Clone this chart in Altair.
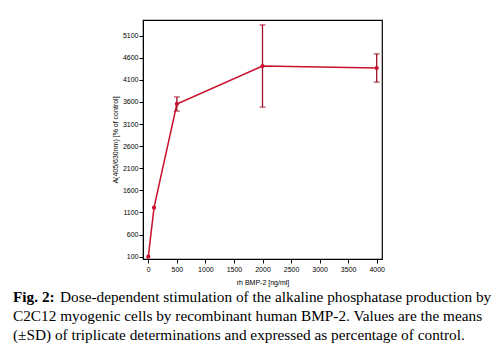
import altair as alt
import pandas as pd

dose = [0, 100, 500, 2000, 4000]
mean = [100, 1210, 3555, 4414, 4369]
sd = [0, 0, 160, 930, 320]

y_ticks = [100, 600, 1100, 1600, 2100, 2600, 3100, 3600, 4100, 4600, 5100]
x_ticks = [0, 500, 1000, 1500, 2000, 2500, 3000, 3500, 4000]

caption_bold = "Fig. 2:"
caption_lines = [
    "Dose-dependent stimulation of the alkaline phosphatase production by",
    "C2C12 myogenic cells by recombinant human BMP-2. Values are the means",
    "(\u00b1SD) of triplicate determinations and expressed as percentage of control.",
]

df = pd.DataFrame({"dose": dose, "mean": mean, "sd": sd})
df["lo"] = df["mean"] - df["sd"]
df["hi"] = df["mean"] + df["sd"]
err = df[df["sd"] > 0]

W, H = 239, 239
xs = alt.Scale(domain=[-93, 4093], nice=False, zero=False)
ys = alt.Scale(domain=[48, 5455], nice=False, zero=False)

line_color = "#c8102e"
err_color = "#a0102a"

common = dict(grid=False, tickSize=4, labelFontSize=7, titleFontSize=7,
              titleFontWeight="normal", labelFont="Liberation Sans",
              titleFont="Liberation Sans", domainColor="black", tickColor="black",
              labelColor="black", titleColor="black", labelFlush=False,
              labelOverlap=False, format="d")
xaxis = alt.Axis(values=x_ticks, labelPadding=2, titlePadding=6, **common)
yaxis = alt.Axis(values=y_ticks, labelPadding=1, titlePadding=4, **common)
xt = "rh BMP-2 [ng/ml]"
yt = "A(405/630nm) [% of control]"


def X(f):
    return alt.X(f, scale=xs, title=xt, axis=xaxis)


def Y(f):
    return alt.Y(f, scale=ys, title=yt, axis=yaxis)


line = alt.Chart(df).mark_line(color=line_color, strokeWidth=1.5).encode(x=X("dose:Q"), y=Y("mean:Q"))
pts = alt.Chart(df).mark_point(filled=True, color=line_color, size=18, opacity=1).encode(
    x=X("dose:Q"), y=Y("mean:Q"))

rules = alt.Chart(err).mark_rule(color=err_color, strokeWidth=1.3).encode(
    x=X("dose:Q"), y=Y("lo:Q"), y2="hi:Q")
cap_lo = alt.Chart(err).mark_tick(color=err_color, size=6, thickness=1.3, orient="horizontal").encode(
    x=X("dose:Q"), y=Y("lo:Q"))
cap_hi = alt.Chart(err).mark_tick(color=err_color, size=6, thickness=1.3, orient="horizontal").encode(
    x=X("dose:Q"), y=Y("hi:Q"))

cap_df = pd.DataFrame({"t": [0]})
fs = 15.3
bold = alt.Chart(cap_df).mark_text(
    text=caption_bold, font="Liberation Serif", fontSize=fs, fontWeight="bold",
    align="left", baseline="alphabetic", color="black"
).encode(x=alt.value(13 - 143), y=alt.value(302 - 20))

texts = []
offsets = [(60 - 143, 302 - 20), (13 - 143, 321 - 20), (13 - 143, 340 - 20)]
for s, (ox, oy) in zip(caption_lines, offsets):
    texts.append(alt.Chart(cap_df).mark_text(
        text=s, font="Liberation Serif", fontSize=fs, align="left",
        baseline="alphabetic", color="black"
    ).encode(x=alt.value(ox), y=alt.value(oy)))

chart = alt.layer(line, rules, cap_lo, cap_hi, pts, bold, *texts).properties(
    width=W, height=H,
    autosize=alt.AutoSizeParams(type="none"),
    padding={"left": 143, "top": 20, "right": 122, "bottom": 93},
    background="white",
).configure_view(stroke="black", strokeWidth=1.2)

chart.save("out.html", embed_options={"renderer": "svg", "actions": False})
